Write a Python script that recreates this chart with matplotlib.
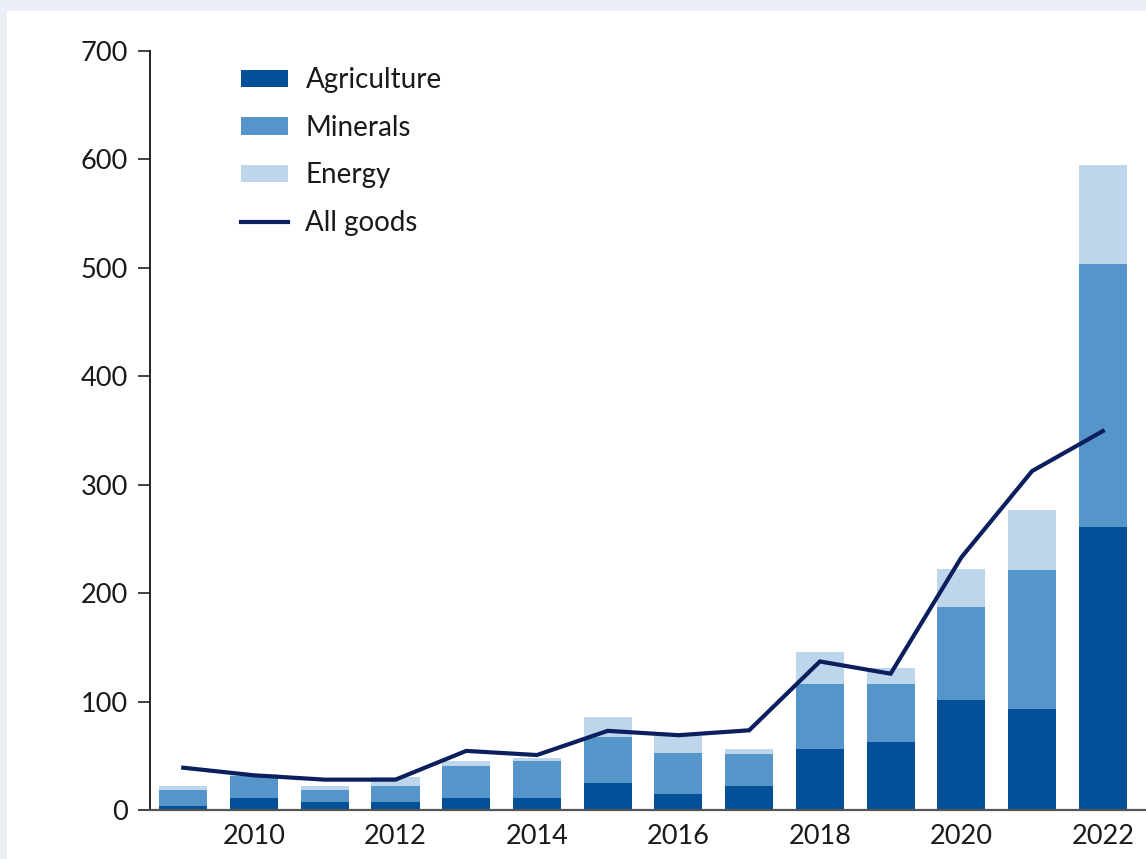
import matplotlib
matplotlib.use("Agg")
import matplotlib.pyplot as plt
from matplotlib.patches import Rectangle
import numpy as np

years = [2009, 2010, 2011, 2012, 2013, 2014, 2015, 2016, 2017, 2018, 2019, 2020, 2021, 2022]
agriculture = [3.5, 11, 7, 7, 11, 11, 25, 14.5, 22, 56, 63, 101, 93, 261]
minerals = [14.5, 20, 11, 15, 30, 34, 42, 38, 30, 60, 53, 86, 128, 243]
energy = [4, 2, 4, 8, 4, 3, 19, 16, 4, 30, 15, 35, 56, 91]
all_goods = [39, 32, 28, 28, 54.5, 50.7, 73, 69, 73.5, 137, 125.7, 233, 312.6, 349.5]
xtick_years = [2010, 2012, 2014, 2016, 2018, 2020, 2022]
yticks = [0, 100, 200, 300, 400, 500, 600, 700]

c_agri = "#034f98"
c_min = "#5595c9"
c_en = "#bdd6eb"
c_line = "#0b1f5e"

plt.rcParams['font.family'] = ['Lato', 'DejaVu Sans']

fig = plt.figure(figsize=(11.46, 8.59), dpi=100)
fig.patch.set_facecolor("#eceff5")
fig.patches.append(Rectangle((7/1146, 0), 1, 1 - 11/859, transform=fig.transFigure,
                             facecolor="white", edgecolor="none", zorder=-5))

ax = fig.add_axes([150/1146, 49/859, 1 - 150/1146, (810-51)/859])
ax.set_facecolor("none")
ax.set_zorder(2)

x = np.array(years)
a = np.array(agriculture)
m = np.array(minerals)
e = np.array(energy)
w = 0.68
b1 = ax.bar(x, a, width=w, color=c_agri, label="Agriculture", zorder=2)
b2 = ax.bar(x, m, width=w, bottom=a, color=c_min, label="Minerals", zorder=2)
b3 = ax.bar(x, e, width=w, bottom=a + m, color=c_en, label="Energy", zorder=2)
l1, = ax.plot(x, all_goods, color=c_line, lw=3, label="All goods", zorder=3,
              solid_joinstyle="miter")

ax.set_xlim(2008.53, 2022.61)
ax.set_ylim(0, 700)
ax.set_xticks(xtick_years)
ax.set_xticklabels([str(v) for v in xtick_years])
ax.set_yticks(yticks)

for s in ["top", "right"]:
    ax.spines[s].set_visible(False)
ax.spines["left"].set_color("#222222")
ax.spines["left"].set_linewidth(1.4)
ax.spines["bottom"].set_color("#555555")
ax.spines["bottom"].set_linewidth(1.6)

ax.tick_params(axis="y", length=9, width=1.2, color="#222222", pad=7,
               labelsize=19.5, labelcolor="#1a1a1a")
ax.tick_params(axis="x", length=0, pad=10, labelsize=19.5, labelcolor="#1a1a1a")

leg = ax.legend([b1, b2, b3, l1], ["Agriculture", "Minerals", "Energy", "All goods"],
                loc="upper left", bbox_to_anchor=(241/1146, 1 - 67/859),
                bbox_transform=fig.transFigure, frameon=False, fontsize=20,
                handlelength=1.7, handleheight=0.58, handletextpad=0.62,
                labelspacing=0.78, borderpad=0, borderaxespad=0)
for t in leg.get_texts():
    t.set_color("#1a1a1a")

fig.savefig("out.png", dpi=100, facecolor=fig.get_facecolor())
